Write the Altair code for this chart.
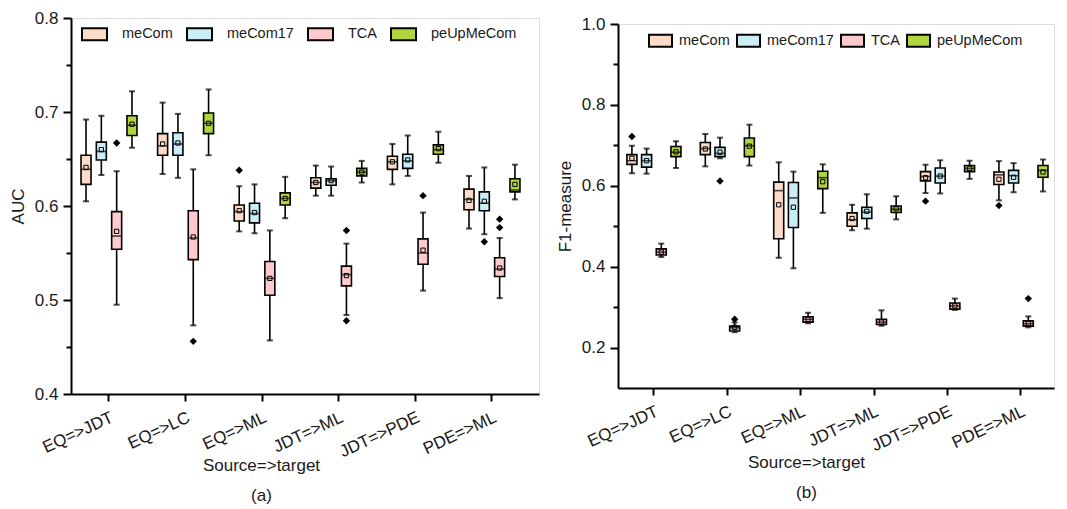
import altair as alt
import pandas as pd

categories = ["EQ=>JDT", "EQ=>LC", "EQ=>ML", "JDT=>ML", "JDT=>PDE", "PDE=>ML"]
methods = ["meCom", "meCom17", "TCA", "peUpMeCom"]
colors = ["#FDDBC7", "#C9EEF5", "#FFC9CD", "#B1D53C"]

# ---- AUC (panel a); per category: meCom, meCom17, TCA, peUpMeCom
auc_min = [0.605, 0.633, 0.495, 0.662,
           0.634, 0.630, 0.473, 0.654,
           0.573, 0.571, 0.457, 0.587,
           0.611, 0.611, 0.484, 0.625,
           0.623, 0.632, 0.510, 0.646,
           0.576, 0.570, 0.502, 0.607]
auc_q1 = [0.623, 0.649, 0.554, 0.675,
          0.654, 0.654, 0.543, 0.677,
          0.584, 0.582, 0.505, 0.601,
          0.619, 0.622, 0.515, 0.632,
          0.639, 0.640, 0.538, 0.655,
          0.596, 0.595, 0.525, 0.615]
auc_med = [0.639, 0.658, 0.568, 0.686,
           0.664, 0.666, 0.566, 0.688,
           0.594, 0.592, 0.523, 0.608,
           0.625, 0.627, 0.527, 0.636,
           0.647, 0.648, 0.550, 0.660,
           0.607, 0.603, 0.533, 0.617]
auc_q3 = [0.654, 0.668, 0.594, 0.696,
          0.677, 0.678, 0.595, 0.699,
          0.601, 0.603, 0.541, 0.614,
          0.630, 0.629, 0.536, 0.640,
          0.653, 0.655, 0.565, 0.665,
          0.618, 0.615, 0.545, 0.629]
auc_max = [0.692, 0.696, 0.637, 0.722,
           0.710, 0.698, 0.639, 0.724,
           0.621, 0.623, 0.574, 0.631,
           0.643, 0.642, 0.560, 0.648,
           0.666, 0.675, 0.593, 0.679,
           0.632, 0.641, 0.566, 0.644]
auc_mean = [0.641, 0.660, 0.573, 0.687,
            0.666, 0.667, 0.567, 0.688,
            0.595, 0.593, 0.523, 0.608,
            0.625, 0.627, 0.526, 0.636,
            0.647, 0.649, 0.553, 0.661,
            0.606, 0.605, 0.534, 0.623]
auc_out_cat = ["EQ=>JDT", "EQ=>LC", "EQ=>ML", "JDT=>ML", "JDT=>ML", "JDT=>PDE", "PDE=>ML", "PDE=>ML", "PDE=>ML"]
auc_out_method = ["TCA", "TCA", "meCom", "TCA", "TCA", "TCA", "meCom17", "TCA", "TCA"]
auc_out_value = [0.667, 0.456, 0.638, 0.574, 0.478, 0.611, 0.562, 0.586, 0.577]

# ---- F1-measure (panel b)
f1_min = [0.631, 0.630, 0.424, 0.644,
          0.648, 0.668, 0.238, 0.650,
          0.422, 0.396, 0.260, 0.533,
          0.490, 0.494, 0.254, 0.517,
          0.582, 0.581, 0.293, 0.617,
          0.564, 0.584, 0.250, 0.586]
f1_q1 = [0.653, 0.646, 0.429, 0.672,
         0.677, 0.672, 0.241, 0.672,
         0.469, 0.497, 0.263, 0.593,
         0.500, 0.519, 0.257, 0.534,
         0.612, 0.607, 0.295, 0.635,
         0.603, 0.607, 0.253, 0.621]
f1_med = [0.662, 0.662, 0.436, 0.683,
          0.692, 0.680, 0.249, 0.699,
          0.588, 0.570, 0.270, 0.620,
          0.516, 0.535, 0.263, 0.542,
          0.623, 0.624, 0.303, 0.643,
          0.627, 0.625, 0.259, 0.638]
f1_q3 = [0.677, 0.677, 0.444, 0.697,
         0.707, 0.695, 0.253, 0.718,
         0.609, 0.608, 0.276, 0.636,
         0.533, 0.547, 0.270, 0.550,
         0.635, 0.644, 0.310, 0.650,
         0.634, 0.638, 0.266, 0.650]
f1_max = [0.699, 0.692, 0.457, 0.710,
          0.728, 0.719, 0.262, 0.751,
          0.658, 0.635, 0.286, 0.653,
          0.553, 0.579, 0.292, 0.574,
          0.652, 0.663, 0.321, 0.662,
          0.661, 0.656, 0.277, 0.665]
f1_mean = [0.668, 0.662, 0.436, 0.684,
           0.691, 0.683, 0.250, 0.698,
           0.553, 0.547, 0.270, 0.610,
           0.519, 0.537, 0.263, 0.543,
           0.620, 0.624, 0.303, 0.643,
           0.616, 0.621, 0.260, 0.634]
f1_out_cat = ["EQ=>JDT", "EQ=>LC", "EQ=>LC", "JDT=>PDE", "PDE=>ML", "PDE=>ML"]
f1_out_method = ["meCom", "meCom17", "TCA", "meCom", "meCom", "TCA"]
f1_out_value = [0.722, 0.612, 0.270, 0.562, 0.551, 0.321]

auc_ticks = [0.4, 0.45, 0.5, 0.55, 0.6, 0.65, 0.7, 0.75, 0.8]
f1_ticks = [0.2, 0.3, 0.4, 0.5, 0.6, 0.7, 0.8, 0.9, 1.0]

FONT = "Liberation Sans"
TXT = "#1a1a1a"


def panel(mn, q1, med, q3, mx, mean, oc, om, ov, ytitle, ydom, yticks, mult,
          width, height, pin, pout, align, title_x, title_y, caption, leg):
    cats = [c for c in categories for _ in methods]
    meths = methods * len(categories)
    df = pd.DataFrame({"cat": cats, "method": meths, "min": mn, "q1": q1,
                       "med": med, "q3": q3, "max": mx, "mean": mean})
    odf = pd.DataFrame({"cat": oc, "method": om, "value": ov})

    minor = f"abs(datum.value*{mult} - round(datum.value*{mult})) > 0.001"
    yaxis = alt.Axis(
        values=yticks,
        labelExpr=f"{minor} ? '' : format(datum.value, '.1f')",
        tickSize={"condition": {"test": minor, "value": 5}, "value": 8},
        tickWidth=2, tickColor="black", domainColor="black", domainWidth=2,
        labelFontSize=17, labelColor=TXT, labelPadding=5, labelFont=FONT,
        titleFontSize=17, titleFontWeight="normal", titleColor=TXT,
        titleFont=FONT, titlePadding=7, grid=False,
    )
    xaxis = alt.Axis(
        labelAngle=-25, labelAlign="right", labelBaseline="top",
        labelFontSize=17, labelColor=TXT, labelPadding=8, labelFont=FONT,
        tickSize=7, tickWidth=2, tickColor="black",
        domainColor="black", domainWidth=2,
        title=["Source=>target", caption], titleFontSize=17,
        titleFontWeight="normal", titleColor=TXT, titleFont=FONT,
        titleLineHeight=30, titleX=title_x, titleY=title_y,
        titleAlign="center", titleBaseline="top", grid=False,
    )
    ysc = alt.Scale(domain=ydom, nice=False, zero=False)
    xenc = alt.X("cat:N", sort=categories, axis=xaxis,
                 scale=alt.Scale(paddingInner=pin, paddingOuter=pout, align=align))
    xoff = alt.XOffset("method:N", sort=methods,
                       scale=alt.Scale(paddingInner=0, paddingOuter=0))

    def Y(field):
        return alt.Y(f"{field}:Q", scale=ysc, axis=yaxis, title=ytitle)

    base = alt.Chart(df).encode(x=xenc, xOffset=xoff)
    whisk = base.mark_rule(color="black", strokeWidth=1.6).encode(y=Y("min"), y2="max:Q")
    cap_lo = base.mark_tick(color="black", size=6, thickness=2).encode(y=Y("min"))
    cap_hi = base.mark_tick(color="black", size=6, thickness=2).encode(y=Y("max"))
    box = base.mark_bar(size=10, stroke="black", strokeWidth=1.6).encode(
        y=Y("q1"), y2="q3:Q",
        color=alt.Color("method:N", sort=methods,
                        scale=alt.Scale(domain=methods, range=colors),
                        title=None, legend=alt.Legend(**leg)),
    )
    median = base.mark_tick(color="black", size=10, thickness=1.6).encode(y=Y("med"))
    mean_pt = base.mark_point(shape="square", filled=False, size=18, color="black",
                              strokeWidth=1, opacity=1).encode(y=Y("mean"))
    outl = alt.Chart(odf).mark_point(shape="diamond", filled=True, size=55,
                                     color="black", opacity=1).encode(
        x=xenc, xOffset=xoff, y=alt.Y("value:Q", scale=ysc, axis=yaxis, title=ytitle))
    return alt.layer(whisk, cap_lo, cap_hi, box, median, mean_pt, outl).properties(
        width=width, height=height)


leg_common = dict(orient="none", direction="horizontal",
                  symbolStrokeColor="black", symbolStrokeWidth=2,
                  labelColor=TXT, labelFont=FONT, symbolOpacity=1)

left = panel(auc_min, auc_q1, auc_med, auc_q3, auc_max, auc_mean,
             auc_out_cat, auc_out_method, auc_out_value,
             "AUC", [0.4, 0.8], auc_ticks, 10,
             468, 376, 0.2, 0.155, 0.31, 190, 63, "(a)",
             dict(leg_common, legendX=10, legendY=2.5,
                  symbolType="M-1,-0.48H1V0.48H-1Z", symbolSize=625,
                  labelFontSize=14.5, labelOffset=14, columnPadding=10))

right = panel(f1_min, f1_q1, f1_med, f1_q3, f1_max, f1_mean,
              f1_out_cat, f1_out_method, f1_out_value,
              "F1-measure", [0.1, 1.0], f1_ticks, 5,
              436, 364, 0.2, 0.07, 0.64, 188, 66, "(b)",
              dict(leg_common, legendX=30, legendY=4,
                   symbolType="M-1,-0.52H1V0.52H-1Z", symbolSize=529,
                   labelFontSize=14.5, labelOffset=6, columnPadding=3))

chart = alt.hconcat(left, right, spacing=79, center=True, bounds="flush").resolve_scale(
    color="independent", x="independent", y="independent", xOffset="independent"
).resolve_legend(color="independent").properties(
    padding={"left": 0, "top": 0, "right": 0, "bottom": 0}
).configure_view(stroke="black", strokeWidth=2).configure(font=FONT, background="white")

chart.save("out.html", embed_options={"renderer": "svg", "actions": False})
